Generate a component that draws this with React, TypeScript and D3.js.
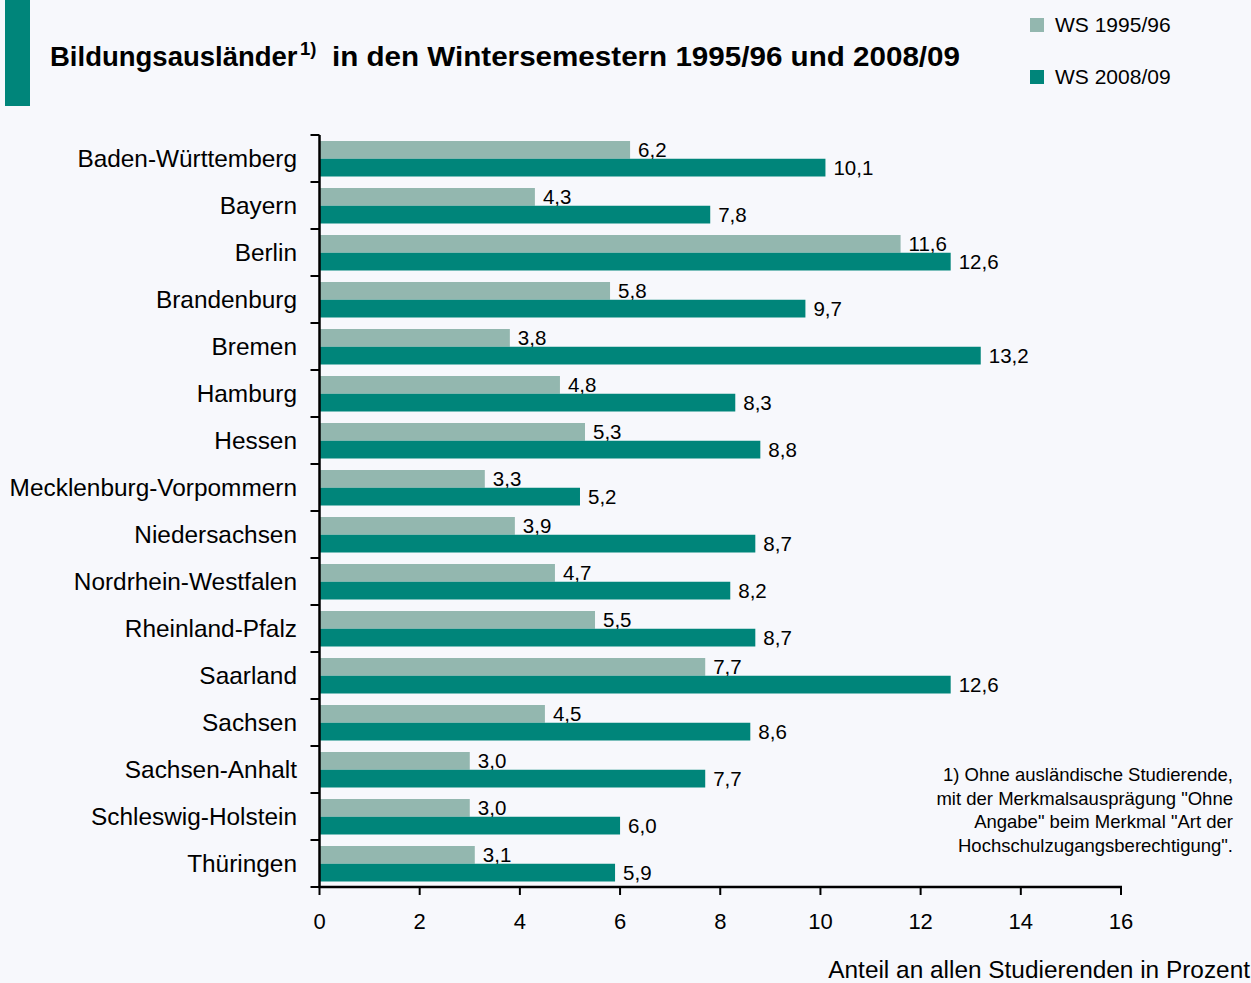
import React from "react";
import * as d3 from "d3";

const categories = [
  "Baden-Württemberg",
  "Bayern",
  "Berlin",
  "Brandenburg",
  "Bremen",
  "Hamburg",
  "Hessen",
  "Mecklenburg-Vorpommern",
  "Niedersachsen",
  "Nordrhein-Westfalen",
  "Rheinland-Pfalz",
  "Saarland",
  "Sachsen",
  "Sachsen-Anhalt",
  "Schleswig-Holstein",
  "Thüringen",
];
const ws1995 = [6.2, 4.3, 11.6, 5.8, 3.8, 4.8, 5.3, 3.3, 3.9, 4.7, 5.5, 7.7, 4.5, 3.0, 3.0, 3.1];
const ws2008 = [10.1, 7.8, 12.6, 9.7, 13.2, 8.3, 8.8, 5.2, 8.7, 8.2, 8.7, 12.6, 8.6, 7.7, 6.0, 5.9];
const seriesNames = ["WS 1995/96", "WS 2008/09"];
const xTicks = [0, 2, 4, 6, 8, 10, 12, 14, 16];
const titleMain = "Bildungsausländer";
const titleSup = "1)";
const titleRest = "in den Wintersemestern 1995/96 und 2008/09";
const footnote = [
  "1) Ohne ausländische Studierende,",
  "mit der Merkmalsausprägung \"Ohne",
  "Angabe\" beim Merkmal \"Art der",
  "Hochschulzugangsberechtigung\".",
];
const xAxisTitle = "Anteil an allen Studierenden in Prozent";

const W = 1251;
const H = 983;
const BG = "#f7f8fc";
const LIGHT = "#93b7af";
const DARK = "#00857a";
const FONT = "'Liberation Sans', Arial, Helvetica, sans-serif";

export default function App() {
  const x = d3.scaleLinear().domain([0, 16]).range([319.5, 1121]);
  const y = d3.scaleBand<string>().domain(categories).range([135, 887]).padding(0);
  const inner = d3.scaleBand<string>().domain(seriesNames).range([6, 41.5]).padding(0);
  const series = [ws1995, ws2008];
  const colors = [LIGHT, DARK];
  const fmt = (v: number) => v.toFixed(1).replace(".", ",");
  const boundaries = d3.range(categories.length + 1).map((i) => 135 + i * y.bandwidth());

  return (
    <svg
      width={W}
      height={H}
      style={{ display: "block", position: "absolute", left: 0, top: 0, background: BG }}
      fontFamily={FONT}
    >
      <rect x={0} y={0} width={W} height={H} fill={BG} />
      <rect x={5} y={0} width={25} height={106} fill={DARK} />
      <text x={50} y={66} fontSize={27.5} fontWeight="bold" fill="#000">
        {titleMain}
      </text>
      <text x={300} y={55} fontSize={18.5} fontWeight="bold" fill="#000">
        {titleSup}
      </text>
      <text
        x={332}
        y={66}
        fontSize={27.5}
        fontWeight="bold"
        fill="#000"
        textLength={628}
        lengthAdjust="spacingAndGlyphs"
      >
        {titleRest}
      </text>

      {seriesNames.map((s, i) => (
        <g key={s}>
          <rect x={1030} y={18 + i * 52} width={14} height={14} fill={colors[i]} />
          <text x={1055} y={32 + i * 52} fontSize={21} fill="#000">
            {s}
          </text>
        </g>
      ))}

      {categories.map((c, ci) => (
        <g key={c}>
          <text
            x={297}
            y={(y(c) as number) + y.bandwidth() / 2 + 8.5}
            fontSize={24.4}
            textAnchor="end"
            fill="#000"
          >
            {c}
          </text>
          {series.map((vals, si) => {
            const by = (y(c) as number) + (inner(seriesNames[si]) as number);
            const bh = inner.bandwidth();
            return (
              <g key={si}>
                <rect x={x(0)} y={by} width={x(vals[ci]) - x(0)} height={bh} fill={colors[si]} />
                <text x={x(vals[ci]) + 8} y={by + bh / 2 + 7.5} fontSize={20.5} fill="#000">
                  {fmt(vals[ci])}
                </text>
              </g>
            );
          })}
        </g>
      ))}

      {/* y axis */}
      <line x1={x(0)} x2={x(0)} y1={135} y2={888} stroke="#000" strokeWidth={2.5} />
      {boundaries.map((b, i) => (
        <line key={i} x1={x(0) - 9} x2={x(0)} y1={b} y2={b} stroke="#000" strokeWidth={2} />
      ))}
      {/* x axis */}
      <line x1={x(0) - 1} x2={x(16) + 1} y1={887} y2={887} stroke="#000" strokeWidth={2.5} />
      {xTicks.map((t) => (
        <g key={t}>
          <line x1={x(t)} x2={x(t)} y1={887} y2={895} stroke="#000" strokeWidth={2} />
          <text x={x(t)} y={929} fontSize={22} textAnchor="middle" fill="#000">
            {t}
          </text>
        </g>
      ))}

      {footnote.map((l, i) => (
        <text key={i} x={1233} y={781 + i * 23.6} fontSize={18.5} textAnchor="end" fill="#000">
          {l}
        </text>
      ))}
      <text x={1250} y={978} fontSize={24.4} textAnchor="end" fill="#000">
        {xAxisTitle}
      </text>
    </svg>
  );
}
